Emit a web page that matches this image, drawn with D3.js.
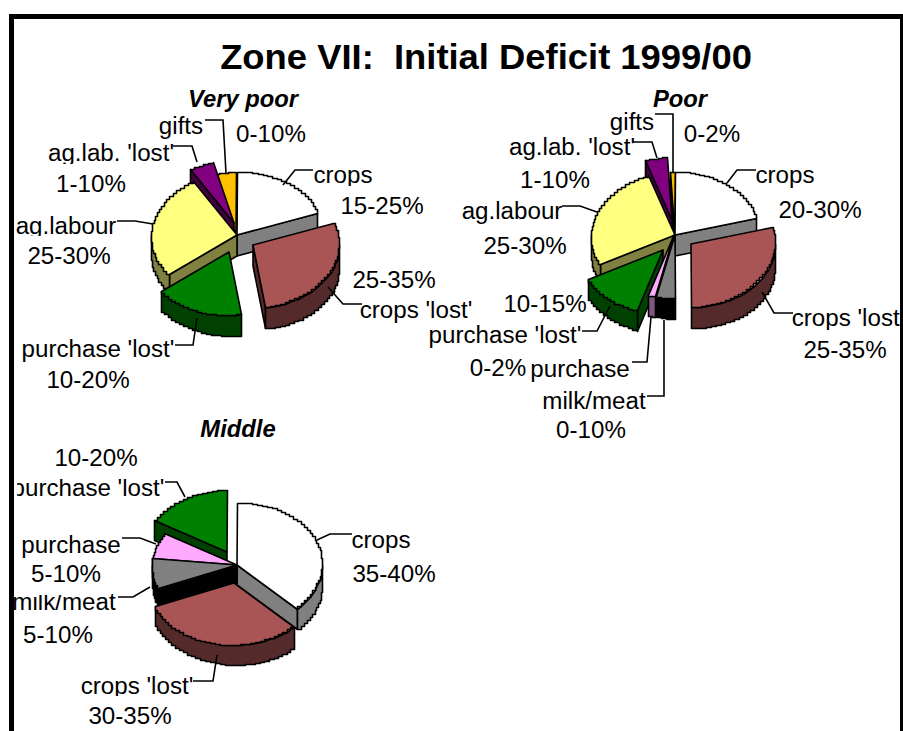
<!DOCTYPE html>
<html><head><meta charset="utf-8">
<script src="https://cdnjs.cloudflare.com/ajax/libs/d3/7.8.5/d3.min.js"></script>
<style>html,body{margin:0;padding:0;background:#fff}svg{display:block}text{font-family:"Liberation Sans",Arial,sans-serif;fill:#000}</style>
</head><body><svg id="c" width="903" height="731"></svg>
<script>
const chartTitle = "Zone VII:  Initial Deficit 1999/00";
const panelTitles = ["Very poor", "Poor", "Middle"];

const veryPoorSlices = ["crops", "crops 'lost'", "purchase 'lost'", "ag.labour", "ag.lab. 'lost'", "gifts"];
const veryPoorValues = [19.2, 28.6, 16.7, 26.9, 4.7, 3.9];
const veryPoorRanges = ["15-25%", "25-35%", "10-20%", "25-30%", "1-10%", "0-10%"];

const poorSlices = ["crops", "crops 'lost'", "milk/meat", "purchase", "purchase 'lost'", "ag.labour", "ag.lab. 'lost'", "gifts"];
const poorValues = [20.6, 29.4, 3.6, 1.4, 12.5, 27.2, 4.3, 1.0];
const poorRanges = ["20-30%", "25-35%", "0-10%", "0-2%", "10-15%", "25-30%", "1-10%", "0-2%"];

const middleSlices = ["crops", "crops 'lost'", "milk/meat", "purchase", "purchase 'lost'"];
const middleValues = [37.5, 31.4, 7.8, 6.9, 16.4];
const middleRanges = ["35-40%", "30-35%", "5-10%", "5-10%", "10-20%"];

// ---- styling & layout, separate from the data ----
const topColor = {"crops":"#ffffff","crops 'lost'":"#aa5555","purchase 'lost'":"#008000","ag.labour":"#ffff80","ag.lab. 'lost'":"#800080","gifts":"#ffc000","milk/meat":"#808080","purchase":"#ffaaff"};
const wallColor = {"crops":"#808080","crops 'lost'":"#552a2a","purchase 'lost'":"#004000","ag.labour":"#808040","ag.lab. 'lost'":"#400040","gifts":"#806000","milk/meat":"#000000","purchase":"#805580"};

const panels = [
 {title:panelTitles[0], tx:243, ty:107, slices:veryPoorSlices, values:veryPoorValues, ranges:veryPoorRanges,
  cx:237, cy:235, rx:86, ry:63, depth:21,
  shift:{"crops 'lost'":[16,10],"purchase 'lost'":[-8,17],"ag.lab. 'lost'":[-3,-12],"gifts":[-1,0]},
  names:{"crops":[343,183],"crops 'lost'":[416,318],"purchase 'lost'":[98,357],"ag.labour":[66,234],"ag.lab. 'lost'":[111,161],"gifts":[181,134]},
  nums:{"crops":[382,214],"crops 'lost'":[394,288],"purchase 'lost'":[88,388],"ag.labour":[69,264],"ag.lab. 'lost'":[91,192],"gifts":[271,142]},
  leaders:{"gifts":[[205,120],[223,120],[226,173]],"ag.lab. 'lost'":[[173,146],[192,146],[197,162]],"crops":[[313,170],[295,170],[283,185]],"ag.labour":[[117,221],[135,221],[153,224]],"crops 'lost'":[[362,304],[343,304],[328,287]],"purchase 'lost'":[[175,345],[193,345],[197,318]]}},
 {title:panelTitles[1], tx:680, ty:107, slices:poorSlices, values:poorValues, ranges:poorRanges,
  cx:675, cy:235, rx:84, ry:63, depth:21,
  shift:{"crops 'lost'":[16,9],"purchase 'lost'":[-12,15],"purchase":[-1,0],"ag.lab. 'lost'":[-3,-15]},
  names:{"crops":[785,183],"crops 'lost'":[848,326],"milk/meat":[594,409],"purchase":[580,377],"purchase 'lost'":[505,343],"ag.labour":[512,219],"ag.lab. 'lost'":[572,155],"gifts":[632,130]},
  nums:{"crops":[820,218],"crops 'lost'":[845,358],"milk/meat":[591,438],"purchase":[498,376],"purchase 'lost'":[545,312],"ag.labour":[525,254],"ag.lab. 'lost'":[555,188],"gifts":[712,142]},
  leaders:{"gifts":[[655,114],[673,114],[673,172]],"ag.lab. 'lost'":[[633,142],[652,142],[657,158]],"crops":[[756,170],[737,170],[727,183]],"ag.labour":[[562,206],[580,206],[597,212]],"crops 'lost'":[[793,313],[774,313],[762,292]],"purchase 'lost'":[[582,331],[597,331],[610,306]],"purchase":[[632,362],[647,362],[651,317]],"milk/meat":[[647,396],[664,396],[664,320]]}},
 {title:panelTitles[2], tx:238, ty:437, slices:middleSlices, values:middleValues, ranges:middleRanges,
  cx:237, cy:565, rx:85, ry:62, depth:20,
  shift:{"crops 'lost'":[-3,18],"purchase 'lost'":[-10,-13]},
  names:{"crops":[381,548],"crops 'lost'":[137,694],"milk/meat":[64,610],"purchase":[71,553],"purchase 'lost'":[88,496]},
  nums:{"crops":[394,582],"crops 'lost'":[130,724],"milk/meat":[58,643],"purchase":[66,582],"purchase 'lost'":[96,466]},
  leaders:{"purchase 'lost'":[[165,482],[177,482],[185,497]],"purchase":[[122,538],[140,538],[156,544]],"milk/meat":[[118,597],[133,597],[150,587]],"crops 'lost'":[[193,681],[213,681],[217,655]],"crops":[[352,534],[330,534],[317,540]]}}
];

const svg = d3.select("#c");
const pie = d3.pie().sort(null).startAngle(0).endAngle(2*Math.PI);
const polyline = d3.line().curve(d3.curveLinear);
const TEXT_STRETCH = 1.05, FS = 23, EDGE = 1.6;

// labels go underneath the pies; each range label carries its own white box
const lab = svg.append("g");
function label(str,x,y,boxed){
  const t = lab.append("text").attr("transform",`translate(${x},${y}) scale(${TEXT_STRETCH},1)`)
    .attr("text-anchor","middle").attr("font-size",FS).text(str);
  if(boxed){
    const w = t.node().getBBox().width*TEXT_STRETCH;
    lab.append("rect").attr("x",x-w/2-5).attr("y",y-28).attr("width",w+10).attr("height",41).attr("fill","#fff");
    t.raise();
  }
}
panels.forEach(p=>p.slices.forEach(n=>label(n,p.names[n][0],p.names[n][1],false)));
// the frame's own white margin trims the first letter of the Middle label
lab.append("rect").attr("x",14).attr("y",476).attr("width",3).attr("height",28).attr("fill","#fff");
panels.forEach(p=>p.slices.forEach((n,i)=>label(p.ranges[i],p.nums[n][0],p.nums[n][1],true)));

function stairs(pts){
  const out=[pts[0]];
  for(let i=1;i<pts.length;i++){ out.push([pts[i][0],pts[i-1][1]]); out.push(pts[i]); }
  return out;
}
function drawPanel(p){
  const g = svg.append("g");
  const arcs = pie(p.values).map((a,i)=>({name:p.slices[i],a0:a.startAngle,a1:a.endAngle,shift:p.shift[p.slices[i]]||[0,0]}));
  arcs.sort((u,v)=>Math.cos((v.a0+v.a1)/2)-Math.cos((u.a0+u.a1)/2));
  arcs.forEach(s=>{
    const ox=p.cx+s.shift[0], oy=p.cy+s.shift[1];
    const pt=(t,d=0)=>[Math.round(ox+p.rx*Math.sin(t))+.5, Math.round(oy-p.ry*Math.cos(t)+d)+.5];
    const apex=(d=0)=>[ox,oy+d];
    const sample=(a,b)=>{const n=Math.max(2,Math.ceil((b-a)/(3.5*Math.PI/180)));return d3.range(n+1).map(i=>a+(b-a)*i/n);};
    const face=(pts,fill)=>g.append("path").attr("d",polyline(pts)+"Z").attr("fill",fill).attr("stroke","#000").attr("stroke-width",EDGE).attr("stroke-linejoin","round");
    const wc=wallColor[s.name];
    if(Math.sin(s.a0)<-1e-6) face([apex(),pt(s.a0),pt(s.a0,p.depth),apex(p.depth)],wc);
    if(Math.sin(s.a1)>1e-6) face([apex(),pt(s.a1),pt(s.a1,p.depth),apex(p.depth)],wc);
    const lo=Math.max(s.a0,Math.PI/2), hi=Math.min(s.a1,3*Math.PI/2);
    if(hi>lo){
      const ts=sample(lo,hi);
      face(ts.map(t=>pt(t)).concat(stairs(ts.slice().reverse().map(t=>pt(t,p.depth)))),wc);
    }
    face([apex()].concat(stairs(sample(s.a0,s.a1).map(t=>pt(t)))),topColor[s.name]);
  });
}
panels.forEach(drawPanel);

panels.forEach(p=>{
  svg.append("text").attr("transform",`translate(${p.tx},${p.ty}) scale(1.035,1)`).attr("text-anchor","middle").attr("font-size",23).attr("font-weight","bold").attr("font-style","italic").text(p.title);
  Object.values(p.leaders).forEach(l=>svg.append("path").attr("d",polyline(l)).attr("fill","none").attr("stroke","#000").attr("stroke-width",EDGE));
});
svg.append("text").attr("transform","translate(486,69) scale(1.04,1)").attr("text-anchor","middle").attr("font-size",35).attr("font-weight","bold").style("white-space","pre").text(chartTitle);

const frame=svg.append("g").attr("fill","#000");
frame.append("rect").attr("x",9).attr("y",14).attr("width",894).attr("height",5);
frame.append("rect").attr("x",9).attr("y",14).attr("width",5).attr("height",717);
frame.append("rect").attr("x",900).attr("y",14).attr("width",3).attr("height",717);
</script></body></html>
